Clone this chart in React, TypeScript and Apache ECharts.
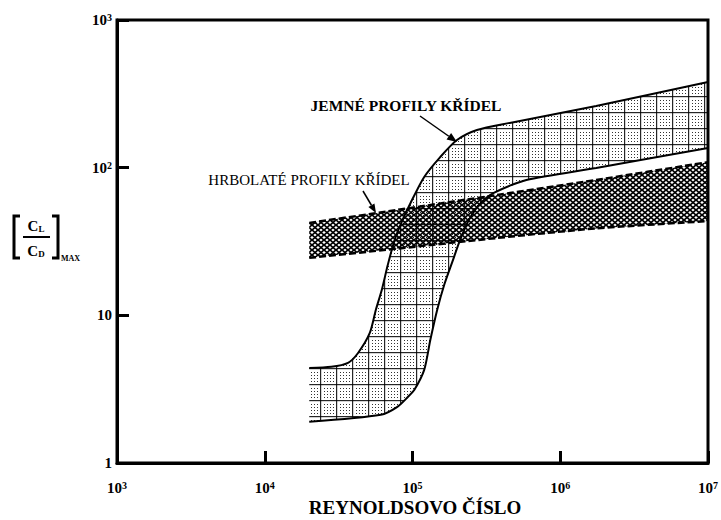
import React, { useEffect, useRef } from "react";
import * as echarts from "echarts";

// Smooth airfoils band (JEMNÉ PROFILY KŘÍDEL) – [Re, (CL/CD)max]
const smoothUpper: [number, number][] = [
  [2.0e4, 4.4], [2.82e4, 4.48], [3.66e4, 4.77], [4.28e4, 5.56], [5.14e4, 7.6],
  [5.65e4, 10.9], [6.2e4, 14.9], [6.8e4, 21.9], [7.57e4, 32.4], [8.57e4, 44.3],
  [9.7e4, 57.7], [1.2e5, 86.5], [1.54e5, 118], [2.0e5, 154], [2.73e5, 180],
  [4.55e5, 201], [1.75e6, 262], [1.0e7, 380],
];
const smoothLower: [number, number][] = [
  [2.0e4, 1.9], [6.1e4, 2.12], [7.9e4, 2.4], [9.3e4, 2.8], [1.03e5, 3.13], [1.2e5, 4.27],
  [1.32e5, 6.8], [1.47e5, 10.9], [1.64e5, 16.1], [1.86e5, 23], [2.1e5, 32.4],
  [2.41e5, 44.3], [2.86e5, 56.8], [3.55e5, 67.5], [5.9e5, 82.6], [1.75e6, 99.6],
  [1.0e7, 136],
];
// Rough airfoils band (HRBOLATÉ PROFILY KŘÍDEL)
const roughUpper: [number, number][] = [
  [2.0e4, 42.2], [7.9e4, 51.7], [3.72e5, 65.3], [1.75e6, 82.5], [1.0e7, 109],
];
const roughLower: [number, number][] = [
  [2.0e4, 24.5], [7.9e4, 28.3], [3.72e5, 33.4], [1.75e6, 38.8], [1.0e7, 43.5],
];

const xTickExponents = [3, 4, 5, 6, 7];
const yTickLabels: Record<number, string> = { 0: "1", 1: "10", 2: "10{s|2}", 3: "10{s|3}" };

const FONT = '"Liberation Serif", "Times New Roman", serif';

function makePattern(kind: "smooth" | "rough") {
  const c = document.createElement("canvas");
  const w = kind === "smooth" ? 16 : 6;
  const h = kind === "smooth" ? 16 : 5;
  c.width = w;
  c.height = h;
  const g = c.getContext("2d")!;
  g.clearRect(0, 0, w, h);
  if (kind === "smooth") {
    g.fillStyle = "rgba(0,0,0,0.85)";
    g.fillRect(0, 0, 1.2, h);
    g.fillRect(0, 0, w, 1.2);
    g.fillStyle = "rgba(0,0,0,0.8)";
    for (let i = 4; i < w; i += 3) {
      for (let j = 4; j < h; j += 3) {
        g.fillRect(i, j, 1, 1);
      }
    }
  } else {
    g.strokeStyle = "#000";
    g.lineWidth = 1.7;
    g.beginPath();
    g.moveTo(0, 0);
    g.lineTo(w, h);
    g.moveTo(w, 0);
    g.lineTo(0, h);
    g.stroke();
  }
  return { type: "pattern", image: c.toDataURL(), repeat: "repeat", imageWidth: w, imageHeight: h };
}

function arrow(x1: number, y1: number, x2: number, y2: number, len: number, half: number) {
  const dx = x2 - x1;
  const dy = y2 - y1;
  const n = Math.sqrt(dx * dx + dy * dy);
  const ux = dx / n;
  const uy = dy / n;
  const bx = x2 - len * ux;
  const by = y2 - len * uy;
  const px = -uy * half;
  const py = ux * half;
  return [
    { type: "line", shape: { x1, y1, x2: bx, y2: by }, style: { stroke: "#000", lineWidth: 1.5 }, silent: true },
    {
      type: "polygon",
      shape: { points: [[x2, y2], [bx + px, by + py], [bx - px, by - py]] },
      style: { fill: "#000" },
      silent: true,
    },
  ];
}

export default function App() {
  const ref = useRef<HTMLDivElement>(null);
  useEffect(() => {
    document.body.style.margin = "0";
    const chart = echarts.init(ref.current!, null, { renderer: "svg" });
    const smoothPat = makePattern("smooth");
    const roughPat = makePattern("rough");

    const band = (upper: [number, number][], lower: [number, number][], fill: any) => ({
      type: "custom",
      data: [upper[0]],
      encode: { x: 0, y: 1 },
      clip: true,
      silent: true,
      renderItem: (_p: any, api: any) => {
        const pts = [
          ...upper.map((p) => api.coord(p)),
          ...lower.slice().reverse().map((p) => api.coord(p)),
        ];
        return { type: "polygon", shape: { points: pts }, style: { fill, stroke: "none" } };
      },
    });

    const lineS = (data: [number, number][], dashed: boolean) => ({
      type: "line",
      data,
      symbol: "none",
      smooth: 0.25,
      silent: true,
      lineStyle: dashed
        ? { color: "#000", width: 2.5, type: [7, 3] }
        : { color: "#000", width: 2 },
    });

    const labelRich = {
      s: { fontFamily: FONT, fontWeight: "bold", fontSize: 10, color: "#000", verticalAlign: "top", lineHeight: 15, padding: [0, 0, 6, 0] },
    };
    const labelBase = { fontFamily: FONT, fontWeight: "bold", fontSize: 15, color: "#000", lineHeight: 15 };

    chart.setOption({
      animation: false,
      grid: { left: 117, right: 9, top: 20, bottom: 57, show: true, borderColor: "#000", borderWidth: 3 },
      xAxis: {
        type: "log",
        logBase: 10,
        min: 1e3,
        max: 1e7,
        splitNumber: 4,
        splitLine: { show: false },
        minorTick: { show: false },
        axisLine: { show: true, lineStyle: { color: "#000", width: 3 } },
        axisTick: { show: true, inside: true, length: 12, lineStyle: { color: "#000", width: 3 } },
        axisLabel: {
          ...labelBase,
          margin: 17,
          formatter: (v: number) => {
            const e = Math.round(Math.log10(v));
            return xTickExponents.includes(e) ? "10{s|" + e + "}" : "";
          },
          rich: labelRich,
        },
      },
      yAxis: {
        type: "log",
        logBase: 10,
        min: 1,
        max: 1000,
        splitNumber: 3,
        splitLine: { show: false },
        minorTick: { show: false },
        axisLine: { show: true, lineStyle: { color: "#000", width: 3 } },
        axisTick: { show: true, inside: true, length: 12, lineStyle: { color: "#000", width: 3 } },
        axisLabel: {
          ...labelBase,
          margin: 5,
          formatter: (v: number) => {
            const e = Math.round(Math.log10(v));
            const t = yTickLabels[e];
            return t === undefined ? "" : t;
          },
          rich: labelRich,
        },
      },
      series: [
        band(smoothUpper, smoothLower, smoothPat),
        band(roughUpper, roughLower, roughPat),
        lineS(smoothUpper, false),
        lineS(smoothLower, false),
        lineS(roughUpper, true),
        lineS(roughLower, true),
      ],
      graphic: [
        {
          type: "text",
          x: 406,
          y: 105,
          style: { text: "JEMNÉ PROFILY KŘÍDEL", font: "bold 15.5px " + FONT, fill: "#000", textAlign: "center", textVerticalAlign: "middle" },
          silent: true,
        },
        ...arrow(420, 116, 457, 142, 10, 4),
        {
          type: "text",
          x: 309,
          y: 180,
          style: { text: "HRBOLATÉ PROFILY KŘÍDEL", font: "15px " + FONT, fill: "#000", textAlign: "center", textVerticalAlign: "middle" },
          silent: true,
        },
        ...arrow(363, 191, 376, 213, 9, 3.5),
        {
          type: "text",
          x: 415,
          y: 507,
          style: { text: "REYNOLDSOVO ČÍSLO", font: "bold 19px " + FONT, fill: "#000", textAlign: "center", textVerticalAlign: "middle" },
          silent: true,
        },
        // y-axis name [CL/CD]MAX
        { type: "polyline", shape: { points: [[20, 216], [14, 216], [14, 258], [20, 258]] }, style: { stroke: "#000", lineWidth: 3, fill: "none" }, silent: true },
        { type: "polyline", shape: { points: [[52, 216], [58, 216], [58, 258], [52, 258]] }, style: { stroke: "#000", lineWidth: 3, fill: "none" }, silent: true },
        { type: "line", shape: { x1: 23, y1: 237, x2: 50, y2: 237 }, style: { stroke: "#000", lineWidth: 2 }, silent: true },
        {
          type: "text",
          x: 36,
          y: 225,
          style: {
            text: "{c|C}{s|L}",
            textAlign: "center",
            textVerticalAlign: "middle",
            rich: {
              c: { fontFamily: FONT, fontWeight: "bold", fontSize: 15, fill: "#000", verticalAlign: "bottom", lineHeight: 16 },
              s: { fontFamily: FONT, fontWeight: "bold", fontSize: 9, fill: "#000", verticalAlign: "bottom", lineHeight: 14 },
            },
          },
          silent: true,
        },
        {
          type: "text",
          x: 36,
          y: 250,
          style: {
            text: "{c|C}{s|D}",
            textAlign: "center",
            textVerticalAlign: "middle",
            rich: {
              c: { fontFamily: FONT, fontWeight: "bold", fontSize: 15, fill: "#000", verticalAlign: "bottom", lineHeight: 16 },
              s: { fontFamily: FONT, fontWeight: "bold", fontSize: 9, fill: "#000", verticalAlign: "bottom", lineHeight: 14 },
            },
          },
          silent: true,
        },
        {
          type: "text",
          x: 61,
          y: 258,
          style: { text: "MAX", font: "bold 8px " + FONT, fill: "#000", textAlign: "left", textVerticalAlign: "middle" },
          silent: true,
        },
      ],
    });
    return () => chart.dispose();
  }, []);
  return <div ref={ref} style={{ width: 721, height: 520 }} />;
}
